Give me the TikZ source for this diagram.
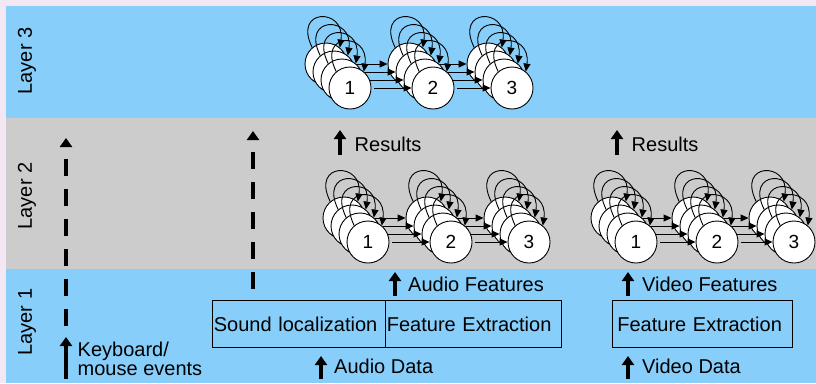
\documentclass[tikz,border=0pt]{standalone}
\usepackage{fontspec}
\setmainfont{Liberation Sans}
\usetikzlibrary{arrows.meta}
\definecolor{bgpink}{RGB}{242,231,242}
\definecolor{skyb}{RGB}{135,206,250}
\definecolor{grayb}{RGB}{204,204,204}
\newcommand\hmmclust[5]{%
  \foreach \k in {0,1,2,3}{%
    \pgfmathsetmacro\off{8*(3-\k)}
    \foreach \i/\xx in {1/#2,2/#3,3/#4}{%
      \node[hst] (#1-\i-\k) at (\xx-\off, #5-\off) {\ifnum\k=3 \i\fi};
      \draw[hloop] (#1-\i-\k.130) .. controls +(-20,-40) and +(6,-40) .. (#1-\i-\k.50);
    }
    \draw[harr] (#1-1-\k) -- (#1-2-\k);
    \draw[harr] (#1-2-\k) -- (#1-3-\k);
  }}
\begin{document}
\begin{tikzpicture}[x=1pt,y=-1pt,
  font=\fontsize{20}{20}\selectfont,
  hst/.style={circle, draw, fill=white, minimum size=42pt, inner sep=0pt, line width=0.9pt, font=\fontsize{19}{20}\selectfont},
  hloop/.style={line width=0.9pt, -{Triangle[length=8pt,width=7pt]}},
  harr/.style={line width=0.9pt, shorten <=3pt, -{Triangle[length=8pt,width=7pt]}},
  bigarrow/.style={line width=4pt, -{Triangle[length=9pt,width=12pt]}},
  dashup/.style={line width=4.3pt, dash pattern=on 17pt off 13pt, dash phase=17pt},
  lbl/.style={anchor=base west, inner sep=0pt},
  layerlbl/.style={rotate=90, inner sep=0pt},
  boxn/.style={draw, line width=0.8pt, anchor=north west, minimum height=47pt, align=left}
]
\fill[bgpink] (0,0) rectangle (816,383);
\useasboundingbox (0,0) rectangle (816,383);
\fill[skyb] (6,6) rectangle (816,118);
\fill[grayb] (6,118) rectangle (816,269);
\fill[skyb] (6,269) rectangle (816,383);

% layer labels
\node[layerlbl] (L3) at (27,61) {Layer 3};
\node[layerlbl] (L2) at (27,196) {Layer 2};
\node[layerlbl] (L1) at (27,322) {Layer 1};

% HMM clusters
\hmmclust{t}{350}{433}{512}{88}
\hmmclust{a}{368}{451}{529}{242}
\hmmclust{v}{636}{717}{794}{242}

% boxes
\node[boxn, minimum width=173pt, inner xsep=1.5pt, text width=170pt] (sl) at (212,300) {Sound localization};
\node[boxn, minimum width=176pt, inner xsep=1.5pt, text width=173pt] (afe) at (385,300) {Feature Extraction};
\node[boxn, minimum width=180pt, inner xsep=5pt, text width=170pt] (vfe) at (612,300) {Feature Extraction};

% dashed lines
\coordinate (d1t) at (66,129);
\coordinate (d1b) at (66,330);
\draw[dashup, {Triangle[length=9pt,width=12pt,sep=9pt]}-] (d1t) -- (d1b);
\coordinate (d2t) at (253,131);
\coordinate (d2b) at (253,300);
\draw[dashup, {Triangle[length=9pt,width=12pt]}-] (d2t) -- (d2b);

% keyboard
\coordinate (kbb) at (66,379);
\coordinate (kbt) at (66,337);
\draw[bigarrow] (kbb) -- (kbt);
\node[lbl] (kb1) at (77.5,356) {Keyboard/};
\node[lbl] (kb2) at (77.5,375) {mouse events};

% results
\coordinate (r1b) at (340,155);
\coordinate (r1t) at (340,130);
\draw[bigarrow] (r1b) -- (r1t);
\node[lbl] (r1) at (354.5,151) {Results};
\coordinate (r2b) at (617,155);
\coordinate (r2t) at (617,130);
\draw[bigarrow] (r2b) -- (r2t);
\node[lbl] (r2) at (631.5,151) {Results};

% features
\coordinate (afb) at (395,296);
\coordinate (aft) at (395,272);
\draw[bigarrow] (afb) -- (aft);
\node[lbl] (af) at (408,291) {Audio Features};
\coordinate (vfb) at (628,296);
\coordinate (vft) at (628,272);
\draw[bigarrow] (vfb) -- (vft);
\node[lbl] (vf) at (642,291) {Video Features};

% data
\coordinate (adb) at (321,379);
\coordinate (adt) at (321,356);
\draw[bigarrow] (adb) -- (adt);
\node[lbl] (ad) at (334,373) {Audio Data};
\coordinate (vdb) at (628,379);
\coordinate (vdt) at (628,356);
\draw[bigarrow] (vdb) -- (vdt);
\node[lbl] (vd) at (642,373) {Video Data};
\end{tikzpicture}
\end{document}
